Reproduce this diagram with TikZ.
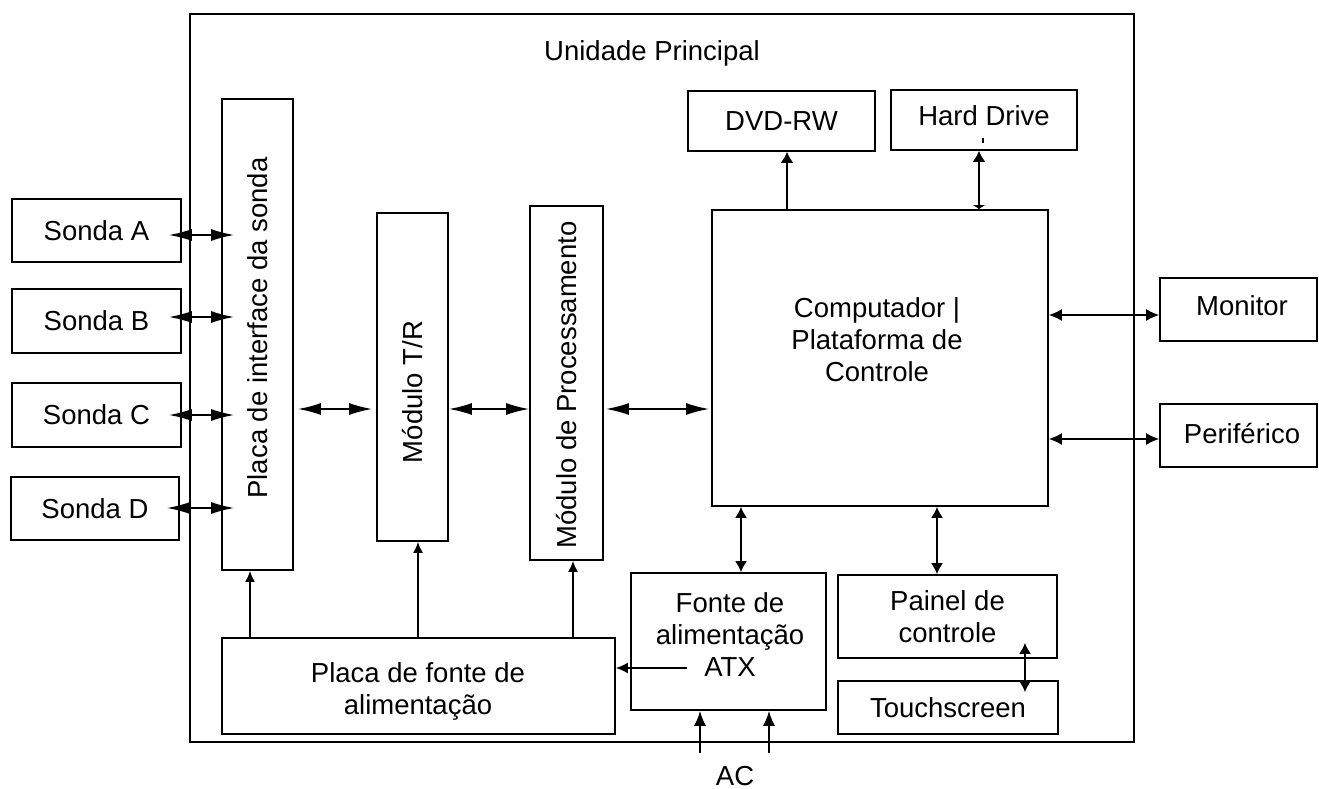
\documentclass[tikz,border=0pt]{standalone}
\usepackage{fontspec}
\setmainfont{Liberation Sans}
\usetikzlibrary{arrows.meta,calc}
\begin{document}
\begin{tikzpicture}[x=1pt,y=-1pt,
  every node/.style={font=\fontsize{27.5}{32}\selectfont},
  box/.style={draw, line width=1.7pt, inner sep=0pt, align=center},
  txt/.style={align=center, inner sep=0pt},
  conn/.style={line width=1.7pt},
  bigarr/.style={conn, {Latex[length=23pt,width=12pt]}-{Latex[length=23pt,width=12pt]}},
  medarr/.style={conn, {Latex[length=13pt,width=12pt]}-{Latex[length=13pt,width=12pt]}},
  smarr/.style={conn, {Latex[length=11pt,width=12pt]}-{Latex[length=11pt,width=12pt]}},
  uparr/.style={conn, -{Latex[length=11pt,width=10pt]}},
  acarr/.style={conn, -{Latex[length=15pt,width=12pt]}}
]
\useasboundingbox (0,0) rectangle (1319,789);

% frame
\node[box, minimum width=944pt, minimum height=728pt] (frame) at (662,378) {};
\node[txt] (title) at (652,53) {Unidade Principal};

% probes
\node[box, minimum width=169pt, minimum height=63pt] (sA) at (96.5,230.5) {Sonda A};
\node[box, minimum width=169pt, minimum height=64pt] (sB) at (96.5,321) {Sonda B};
\node[box, minimum width=169pt, minimum height=64pt] (sC) at (96.5,415) {Sonda C};
\node[box, minimum width=168pt, minimum height=63pt] (sD) at (95,508.5) {Sonda D};

% vertical modules
\node[box, minimum width=71pt, minimum height=471pt] (placa) at (257.5,334.5) {};
\node[txt, rotate=90] (placaT) at (258,328) {Placa de interface da sonda};
\node[box, minimum width=71pt, minimum height=328pt] (tr) at (412.5,377) {};
\node[txt, rotate=90] (trT) at (413,392) {Módulo T/R};
\node[box, minimum width=73pt, minimum height=354pt] (proc) at (566.5,383) {};
\node[txt, rotate=90] (procT) at (567,385) {Módulo de Processamento};

% computer
\node[box, minimum width=336pt, minimum height=296pt] (comp) at (880,358) {};
\node[txt] (compT) at (877,340) {Computador |\\Plataforma de\\Controle};
\node[box, minimum width=187pt, minimum height=60pt] (dvd) at (781.5,121) {DVD-RW};
\node[box, minimum width=186pt, minimum height=60pt] (hd) at (984,120) {};
\node[txt] (hdT) at (984,116) {Hard Drive};
\node[box, minimum width=157pt, minimum height=63pt] (mon) at (1238.5,309.5) {};
\node[txt] (monT) at (1242,306) {Monitor};
\node[box, minimum width=157pt, minimum height=63pt] (per) at (1238.5,435.5) {};
\node[txt] (perT) at (1242,434) {Periférico};

% power and control
\node[box, minimum width=195pt, minimum height=137pt] (fonte) at (728.5,641.5) {};
\node[txt] (fonteT) at (730,635) {Fonte de\\alimentação\\ATX};
\node[box, minimum width=219pt, minimum height=83pt] (painel) at (947.5,616.5) {Painel de\\controle};
\node[box, minimum width=220pt, minimum height=53pt] (touch) at (948,707.5) {Touchscreen};
\node[box, minimum width=393pt, minimum height=96pt] (pfonte) at (418.5,686) {};
\node[txt] (pfonteT) at (418,691) {Placa de fonte de\\alimentação};
\node[txt] (ac) at (735,776) {AC};

% helper coordinates
\coordinate (rA) at (0,235);
\coordinate (rB) at (0,317);
\coordinate (rC) at (0,415);
\coordinate (rD) at (0,508);
\coordinate (rBus) at (0,409);
\coordinate (rMon) at (0,315);
\coordinate (rPer) at (0,439);
\coordinate (rATX) at (0,668);
\coordinate (rAClow) at (0,753);
\coordinate (cP1) at (250,0);
\coordinate (cP2) at (418,0);
\coordinate (cP3) at (573,0);
\coordinate (cDVD) at (787,0);
\coordinate (cHD) at (979,0);
\coordinate (cF) at (741,0);
\coordinate (cPn) at (937,0);
\coordinate (cT) at (1025,0);
\coordinate (cAC1) at (700,0);
\coordinate (cAC2) at (769,0);
\coordinate (atxStart) at (687,668);

% probe connectors
\draw[bigarr, shorten <=-13pt, shorten >=-13pt] (sA.east |- rA) -- (placa.west |- rA);
\draw[bigarr, shorten <=-13pt, shorten >=-13pt] (sB.east |- rB) -- (placa.west |- rB);
\draw[bigarr, shorten <=-13pt, shorten >=-13pt] (sC.east |- rC) -- (placa.west |- rC);
\draw[bigarr, shorten <=-13pt, shorten >=-13pt] (sD.east |- rD) -- (placa.west |- rD);

% bus
\draw[bigarr, shorten <=4pt, shorten >=4pt] (placa.east |- rBus) -- (tr.west |- rBus);
\draw[bigarr] (tr.east |- rBus) -- (proc.west |- rBus);
\draw[bigarr, shorten <=2pt, shorten >=2pt] (proc.east |- rBus) -- (comp.west |- rBus);

% computer peripherals
\draw[medarr] (comp.east |- rMon) -- (mon.west |- rMon);
\draw[medarr] (comp.east |- rPer) -- (per.west |- rPer);
\draw[conn, -{Latex[length=11pt,width=13pt]}] (comp.north -| cDVD) -- (dvd.south -| cDVD);
\draw[conn, {Latex[length=4pt,width=13pt]}-{Latex[length=11pt,width=13pt]}] (comp.north -| cHD) -- (hd.south -| cHD);
\draw[conn] (983,138) -- (983,143);
\draw[smarr] (comp.south -| cF) -- (fonte.north -| cF);
\draw[smarr] (comp.south -| cPn) -- (painel.north -| cPn);
\draw[smarr, shorten <=-16pt, shorten >=-12pt] (painel.south -| cT) -- (touch.north -| cT);

% power
\draw[conn, -{Latex[length=12pt,width=11pt]}] (atxStart) -- (pfonte.east |- rATX);
\draw[acarr] (cAC1 |- rAClow) -- (fonte.south -| cAC1);
\draw[acarr] (cAC2 |- rAClow) -- (fonte.south -| cAC2);
\draw[uparr] (pfonte.north -| cP1) -- (placa.south -| cP1);
\draw[uparr] (pfonte.north -| cP2) -- (tr.south -| cP2);
\draw[uparr] (pfonte.north -| cP3) -- (proc.south -| cP3);
\end{tikzpicture}
\end{document}
